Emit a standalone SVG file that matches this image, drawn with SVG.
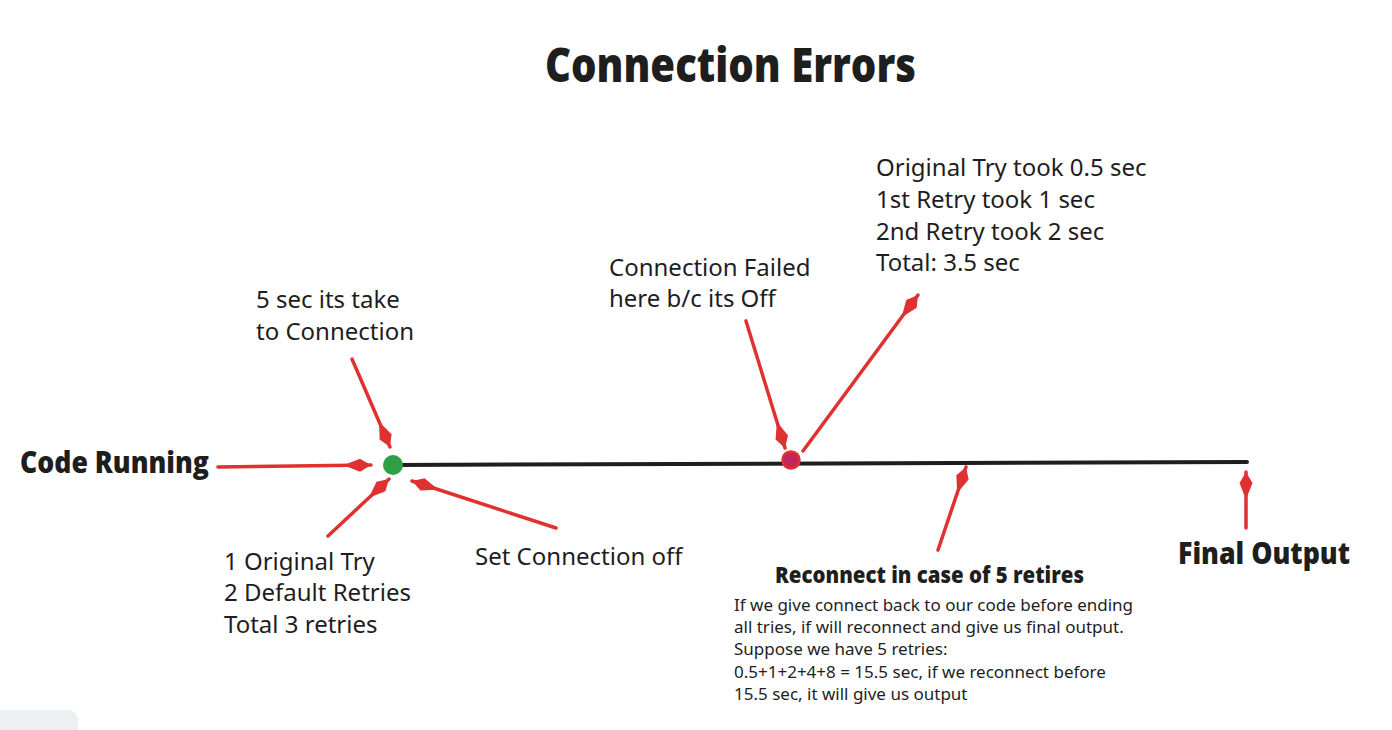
<svg xmlns="http://www.w3.org/2000/svg" width="1392" height="730" viewBox="0 0 1392 730">
<style>
.bg{fill:#ffffff}
.hd{font-family:"Open Sans","Noto Sans",sans-serif;font-weight:800;fill:#1e1e1e}
.tx{font-family:"Noto Sans","Open Sans",sans-serif;font-size:24px;fill:#1e1e1e}
.sm{font-family:"Noto Sans","Open Sans",sans-serif;font-size:17px;fill:#1e1e1e}
.arr{stroke:#e03131;stroke-width:3.5;stroke-linecap:round;fill:none}
.tl{stroke:#1e1e1e;stroke-width:4;stroke-linecap:round;fill:none}
</style>
<defs>
<marker id="dia" viewBox="-26 -8 28 16" refX="0" refY="0" markerWidth="28" markerHeight="16" markerUnits="userSpaceOnUse" orient="auto">
<path d="M0,0 L-11,-6.5 L-25,-1 L-25,1 L-11,6.5 Z" fill="#e03131"/>
</marker>
</defs>
<rect class="bg" x="0" y="0" width="1392" height="730"/>
<rect x="-10" y="710" width="88" height="40" rx="10" fill="#e9ecef" opacity="0.8"/>

<g id="title"><text class="hd" x="545" y="82" font-size="48" textLength="371" lengthAdjust="spacingAndGlyphs">Connection Errors</text></g>

<g id="connectors">
<path class="tl" d="M393,465 L1247,462"/>
<path class="arr" d="M218,467 L371,465" marker-end="url(#dia)"/>
<path class="arr" d="M352,359 L390,447" marker-end="url(#dia)"/>
<path class="arr" d="M328,536 L389,479" marker-end="url(#dia)"/>
<path class="arr" d="M556,528 L412,481" marker-end="url(#dia)"/>
<path class="arr" d="M746,321 L785,448" marker-end="url(#dia)"/>
<path class="arr" d="M803,451 L918,295" marker-end="url(#dia)"/>
<path class="arr" d="M938,550 L966,467" marker-end="url(#dia)"/>
<path class="arr" d="M1246,528 L1246,472" marker-end="url(#dia)"/>
</g>

<g id="start-node"><circle cx="393" cy="465" r="10" fill="#2f9e44"/></g>
<g id="fail-node"><circle cx="791" cy="460" r="8.5" fill="#c2255c" stroke="#e03131" stroke-width="2.5"/></g>

<g id="code-running"><text class="hd" x="20" y="473" font-size="30" textLength="189" lengthAdjust="spacingAndGlyphs">Code Running</text></g>
<g id="final-output"><text class="hd" x="1178" y="564" font-size="30" textLength="172" lengthAdjust="spacingAndGlyphs">Final Output</text></g>

<g id="label-5sec"><text class="tx" x="256" y="308">5 sec its take</text><text class="tx" x="256" y="340">to Connection</text></g>
<g id="label-tries"><text class="tx" x="224" y="570">1 Original Try</text><text class="tx" x="224" y="601">2 Default Retries</text><text class="tx" x="224" y="633">Total 3 retries</text></g>
<g id="label-off"><text class="tx" x="475" y="565">Set Connection off</text></g>
<g id="label-failed"><text class="tx" x="609" y="276">Connection Failed</text><text class="tx" x="609" y="307">here b/c its Off</text></g>
<g id="label-times"><text class="tx" x="876" y="176">Original Try took 0.5 sec</text><text class="tx" x="876" y="208">1st Retry took 1 sec</text><text class="tx" x="876" y="240">2nd Retry took 2 sec</text><text class="tx" x="876" y="271">Total: 3.5 sec</text></g>
<g id="reconnect">
<text class="hd" x="775" y="583" font-size="22" textLength="309" lengthAdjust="spacingAndGlyphs">Reconnect in case of 5 retires</text>
<text class="sm" x="734" y="611">If we give connect back to our code before ending</text>
<text class="sm" x="734" y="633">all tries, if will reconnect and give us final output.</text>
<text class="sm" x="734" y="655">Suppose we have 5 retries:</text>
<text class="sm" x="734" y="678">0.5+1+2+4+8 = 15.5 sec, if we reconnect before</text>
<text class="sm" x="734" y="700">15.5 sec, it will give us output</text>
</g>
</svg>
